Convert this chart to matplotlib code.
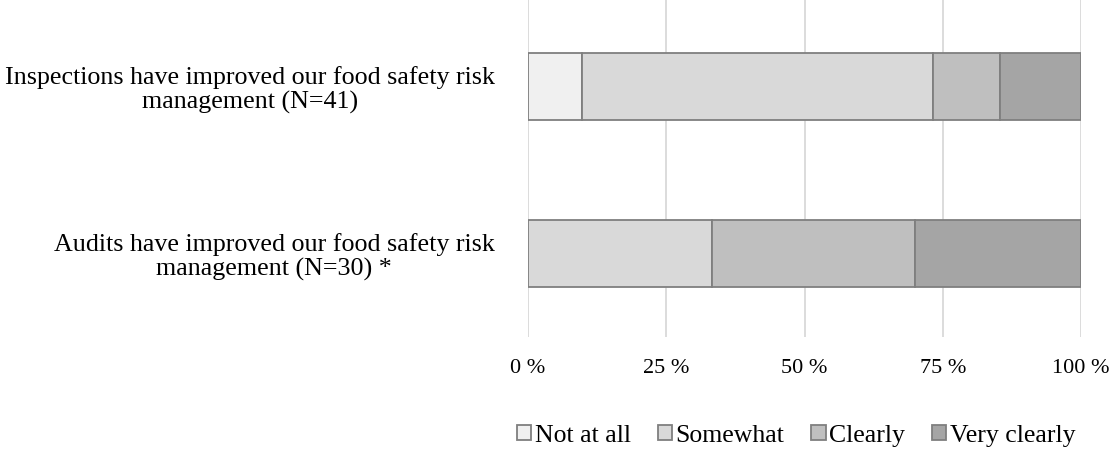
import matplotlib.pyplot as plt
import numpy as np

plt.rcParams['font.family'] = ['Liberation Serif', 'DejaVu Serif']

questions = ["Audits have improved our food safety risk\nmanagement (N=30) *",
             "Inspections have improved our food safety risk\nmanagement (N=41)"]
categories = ["Not at all", "Somewhat", "Clearly", "Very clearly"]
# counts per answer (audits, inspections)
counts = {
    "Not at all": [0, 4],
    "Somewhat": [10, 26],
    "Clearly": [11, 5],
    "Very clearly": [9, 6],
}
totals = [30, 41]
colors = ["#F0F0F0", "#D9D9D9", "#BFBFBF", "#A5A5A5"]

fig = plt.figure(figsize=(11.12, 4.51), dpi=100)
ax = fig.add_axes([528/1112, 1 - 337/451, 553/1112, 337/451])

ypos = np.arange(len(questions))
left = np.zeros(len(questions))
for cat, col in zip(categories, colors):
    vals = np.array(counts[cat]) / np.array(totals) * 100
    ax.barh(ypos, vals, left=left, height=0.40, color=col,
            edgecolor="#7F7F7F", linewidth=1.3, label=cat, zorder=3)
    left += vals

ax.set_xlim(0, 100)
ax.set_ylim(-0.5, 1.518)
ax.set_xticks([0, 25, 50, 75, 100])
ax.set_xticklabels(["0 %", "25 %", "50 %", "75 %", "100 %"])
ax.set_yticks(ypos)
ax.set_yticklabels(questions, multialignment="center", linespacing=1.12)
ax.tick_params(axis="both", length=0)
ax.tick_params(axis="x", pad=16, labelsize=16)
ax.tick_params(axis="y", pad=24, labelsize=18.7)
ax.xaxis.grid(True, color="#D9D9D9", linewidth=1.3, zorder=0)
for s in ax.spines.values():
    s.set_visible(False)

ax.legend(loc="center", bbox_to_anchor=(0.485, -0.293), ncol=4, frameon=False,
          fontsize=18.5, handlelength=0.55, handleheight=0.55, handletextpad=0.15,
          columnspacing=1.05, borderaxespad=0)

fig.savefig("out.png", dpi=100)
